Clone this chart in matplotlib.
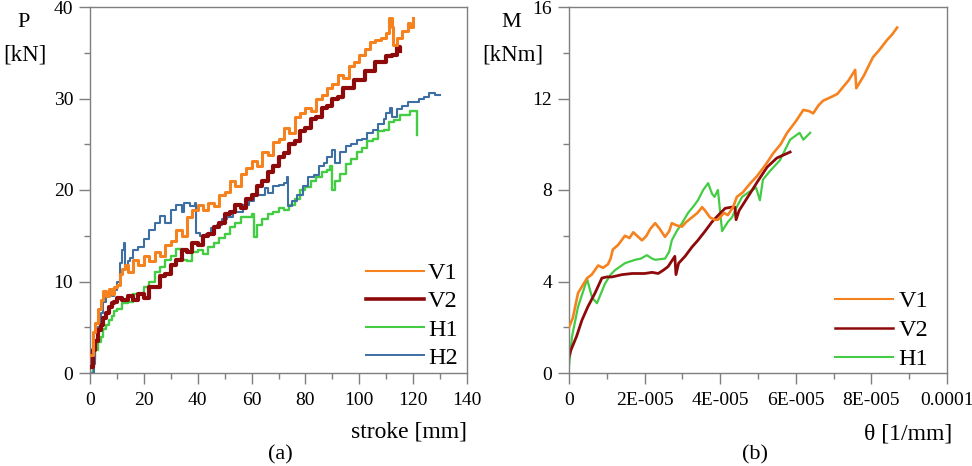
import numpy as np
import matplotlib
matplotlib.use("Agg")
import matplotlib.pyplot as plt
from matplotlib.ticker import MultipleLocator

# (a) load vs stroke
stroke_v1 = [0, 1, 2, 3, 4, 5, 6, 7, 8, 9, 10, 11, 12, 13, 14, 16, 18, 20, 22, 24, 26, 28, 30, 32, 34, 36,
             38, 40, 42, 44, 46, 48, 50, 52, 54, 56, 58, 60, 62, 64, 66, 68, 70, 72, 74, 76, 78, 80, 82, 84,
             86, 88, 90, 92, 94, 96, 98, 100, 102, 104, 106, 108, 110, 111, 112, 112.5, 114, 116, 118, 119, 120]
load_v1 = [2.0, 4.5, 5.5, 7.0, 8.0, 9.0, 8.4, 9.2, 8.6, 9.4, 9.6, 10.8, 11.4, 11.8, 11.0, 12.4, 11.8, 12.8,
           12.2, 13.2, 12.8, 14.0, 14.4, 15.6, 15.0, 17.0, 17.8, 18.4, 17.8, 18.6, 18.2, 19.4, 19.8, 21.0,
           20.4, 21.8, 22.4, 23.2, 22.6, 24.2, 23.8, 25.2, 25.6, 26.8, 26.2, 28.0, 28.4, 29.0, 28.6, 30.0,
           30.4, 31.2, 31.6, 32.6, 32.2, 33.6, 34.0, 34.8, 35.4, 36.2, 36.4, 36.6, 37.2, 38.8, 37.8, 35.8,
           36.6, 37.4, 38.2, 37.8, 38.8]

stroke_v2 = [0, 1, 2, 3, 4, 5, 6, 7, 8, 9, 10, 12, 14, 16, 18, 20, 22, 24, 26, 28, 30, 32, 34, 36, 38, 40,
             42, 44, 46, 48, 50, 52, 54, 56, 58, 60, 62, 64, 66, 68, 70, 72, 74, 76, 78, 80, 82, 84, 86, 88,
             90, 92, 94, 96, 98, 100, 102, 104, 106, 108, 110, 112, 114, 115]
load_v2 = [0.7, 2.5, 3.5, 4.7, 5.2, 6.0, 6.6, 7.2, 7.6, 7.8, 8.2, 8.0, 8.4, 8.0, 8.6, 8.2, 9.4, 9.4, 10.6,
           10.8, 11.8, 12.4, 13.4, 13.2, 14.2, 14.0, 15.0, 15.2, 16.0, 16.4, 17.4, 17.6, 18.4, 18.0, 19.0,
           19.4, 20.4, 21.0, 22.0, 22.6, 23.6, 24.0, 25.0, 25.4, 26.4, 26.8, 27.8, 28.0, 29.0, 29.2, 30.0,
           30.2, 31.2, 31.2, 32.0, 32.0, 33.0, 33.0, 34.0, 34.0, 34.6, 34.8, 35.6, 35.2]

stroke_h1 = [0, 1, 2, 3, 4, 5, 6, 7, 8, 9, 10, 12, 14, 16, 18, 20, 22, 24, 26, 28, 30, 32, 34, 36, 38, 40,
             42, 44, 46, 48, 50, 52, 54, 56, 58, 60, 61, 62, 64, 66, 68, 70, 72, 74, 76, 78, 80, 82, 84, 86,
             88, 89, 90, 91, 93, 95, 97, 99, 101, 103, 105, 107, 109, 111, 113, 115, 117, 119, 121, 121.5]
load_h1 = [0.0, 1.5, 2.5, 3.4, 3.9, 4.8, 5.2, 5.8, 6.2, 6.8, 7.0, 7.6, 7.8, 8.6, 8.6, 9.4, 10.0, 11.0, 11.6,
           12.4, 12.8, 13.6, 12.4, 12.2, 13.2, 13.4, 13.0, 13.8, 14.2, 14.8, 15.2, 16.0, 16.4, 17.0, 17.0,
           17.4, 14.9, 16.2, 16.8, 17.4, 17.6, 18.0, 17.8, 18.4, 19.0, 20.0, 20.3, 21.0, 21.4, 22.0, 22.2,
           22.6, 20.0, 21.0, 21.8, 22.8, 23.4, 24.2, 24.6, 25.4, 25.6, 26.4, 26.6, 27.4, 27.6, 28.2, 28.2,
           28.6, 28.6, 26.0]

stroke_h2 = [0.5, 1.5, 2, 3, 4, 5, 6, 7, 8, 9, 10, 11, 12, 12.5, 13, 14, 15, 16, 18, 20, 22, 24, 26, 28, 30,
             32, 34, 35, 37, 39, 39.5, 41, 43, 45, 47, 49, 51, 53, 55, 57, 59, 61, 63, 65, 66, 68, 70, 72,
             73, 73.5, 75, 77, 79, 81, 83, 85, 87, 88, 90, 91, 93, 95, 97, 99, 101, 103, 105, 107, 109, 110,
             111.4, 112, 114, 116, 118, 120, 122, 124, 126, 128, 130]
load_h2 = [0.0, 1.0, 3.5, 5.0, 6.6, 7.8, 8.6, 8.8, 8.4, 9.1, 10.0, 12.0, 13.4, 14.2, 11.6, 12.2, 12.6, 13.4,
           13.8, 14.6, 15.6, 16.4, 17.2, 16.4, 17.8, 18.4, 17.6, 18.6, 18.2, 18.6, 15.3, 15.0, 15.2, 15.8,
           16.2, 16.8, 17.0, 17.6, 17.6, 18.4, 18.8, 19.4, 19.4, 20.2, 19.7, 20.4, 20.6, 20.8, 21.4, 18.2,
           18.8, 19.4, 20.4, 21.4, 21.6, 22.6, 23.0, 23.6, 24.4, 23.0, 24.2, 24.8, 25.0, 25.5, 25.6, 26.2,
           26.6, 27.2, 27.8, 28.4, 29.0, 28.0, 28.8, 29.2, 29.6, 29.6, 30.0, 30.2, 30.6, 30.4, 30.4]

# (b) moment vs curvature, theta in units of 1e-5 1/mm
theta_v1 = [0, 0.1, 0.24, 0.35, 0.48, 0.6, 0.77, 0.9, 1.03, 1.1, 1.16, 1.3, 1.48, 1.6, 1.7, 1.8, 1.93, 2.05,
            2.15, 2.28, 2.4, 2.54, 2.65, 2.72, 2.85, 2.99, 3.1, 3.25, 3.4, 3.52, 3.6, 3.73, 3.85, 3.94, 4.1,
            4.2, 4.34, 4.44, 4.6, 4.8, 4.97, 5.2, 5.4, 5.6, 5.77, 6.0, 6.2, 6.35, 6.46, 6.6, 6.72, 6.98, 7.1,
            7.25, 7.4, 7.57, 7.6, 7.8, 8.04, 8.2, 8.41, 8.55, 8.68]
moment_v1 = [2.0, 2.4, 3.5, 3.8, 4.15, 4.3, 4.7, 4.6, 4.75, 5.0, 5.4, 5.6, 6.0, 5.9, 6.15, 6.0, 5.8, 6.0,
             6.3, 6.55, 6.3, 5.95, 6.2, 6.55, 6.45, 6.4, 6.6, 6.8, 7.0, 7.25, 7.1, 6.8, 6.7, 6.7, 7.0, 6.9,
             7.25, 7.7, 7.9, 8.3, 8.6, 9.1, 9.6, 10.0, 10.5, 11.0, 11.5, 11.45, 11.35, 11.7, 11.9, 12.1, 12.2,
             12.5, 12.8, 13.25, 12.45, 13.0, 13.8, 14.1, 14.55, 14.8, 15.1]

theta_v2 = [0, 0.05, 0.2, 0.34, 0.5, 0.69, 0.87, 1.0, 1.14, 1.4, 1.67, 2.0, 2.2, 2.36, 2.5, 2.62, 2.8, 2.83,
            2.9, 3.07, 3.25, 3.41, 3.6, 3.78, 3.95, 4.13, 4.3, 4.39, 4.42, 4.5, 4.79, 5.0, 5.24, 5.5, 5.85]
moment_v2 = [0.7, 1.0, 1.6, 2.3, 2.9, 3.5, 4.15, 4.2, 4.2, 4.3, 4.35, 4.35, 4.4, 4.35, 4.5, 4.65, 5.1, 4.3,
             4.8, 5.1, 5.5, 5.8, 6.2, 6.6, 6.9, 7.2, 7.25, 7.25, 6.7, 7.1, 7.85, 8.4, 9.0, 9.4, 9.66]

theta_h1 = [0, 0.08, 0.24, 0.48, 0.61, 0.74, 0.95, 1.1, 1.22, 1.48, 1.75, 1.9, 2.06, 2.2, 2.28, 2.54, 2.65,
            2.72, 2.85, 2.99, 3.15, 3.3, 3.41, 3.55, 3.68, 3.78, 3.85, 3.94, 4.05, 4.2, 4.31, 4.45, 4.58,
            4.75, 4.95, 5.05, 5.13, 5.3, 5.58, 5.85, 6.1, 6.2, 6.38]
moment_h1 = [0.3, 1.6, 2.9, 4.1, 3.3, 3.05, 3.9, 4.3, 4.5, 4.8, 4.95, 5.0, 5.15, 5.0, 4.95, 5.0, 5.3, 5.8,
             6.2, 6.55, 7.0, 7.3, 7.55, 8.0, 8.3, 7.85, 7.7, 8.0, 6.2, 6.6, 6.8, 7.3, 7.7, 7.9, 8.1, 7.55,
             8.45, 8.8, 9.3, 10.2, 10.5, 10.2, 10.5]

theta_ticks = [0, 2e-5, 4e-5, 6e-5, 8e-5, 1e-4]
theta_tick_labels = ["0", "2E-005", "4E-005", "6E-005", "8E-005", "0.0001"]

c_v1 = "#f5821f"
c_v2 = "#8e0a0a"
c_h1 = "#44cc44"
c_h2 = "#3d6fa3"
spine_gray = "#7f7f7f"

plt.rcParams["font.family"] = ["Liberation Serif", "DejaVu Serif"]

fig = plt.figure(figsize=(9.72, 4.66), dpi=100)
ax1 = fig.add_axes([90 / 972, 93 / 466, 377 / 972, 366 / 466])
ax2 = fig.add_axes([569 / 972, 93 / 466, 378 / 972, 366 / 466])

ax1.plot(stroke_v1, load_v1, color=c_v1, lw=2.2, drawstyle="steps-post", label="V1", zorder=4)
ax1.plot(stroke_v2, load_v2, color=c_v2, lw=3.0, drawstyle="steps-post", label="V2", zorder=3)
ax1.plot(stroke_h1, load_h1, color=c_h1, lw=1.7, drawstyle="steps-post", label="H1", zorder=1)
ax1.plot(stroke_h2, load_h2, color=c_h2, lw=1.5, drawstyle="steps-post", label="H2", zorder=2)

th = 1e-5
ax2.plot(np.array(theta_v1) * th, moment_v1, color=c_v1, lw=1.9, label="V1", zorder=3)
ax2.plot(np.array(theta_v2) * th, moment_v2, color=c_v2, lw=2.0, label="V2", zorder=2)
ax2.plot(np.array(theta_h1) * th, moment_h1, color=c_h1, lw=1.6, label="H1", zorder=1)

ax1.set_xlim(0, 140)
ax1.set_ylim(0, 40)
ax1.xaxis.set_major_locator(MultipleLocator(20))
ax1.xaxis.set_minor_locator(MultipleLocator(10))
ax1.yaxis.set_major_locator(MultipleLocator(10))
ax1.yaxis.set_minor_locator(MultipleLocator(5))

ax2.set_xlim(0, 1e-4)
ax2.set_ylim(0, 16)
ax2.set_xticks(theta_ticks)
ax2.set_xticklabels(theta_tick_labels)
ax2.xaxis.set_minor_locator(MultipleLocator(1e-5))
ax2.yaxis.set_major_locator(MultipleLocator(4))
ax2.yaxis.set_minor_locator(MultipleLocator(2))

for ax in (ax1, ax2):
    for s in ax.spines.values():
        s.set_color(spine_gray)
        s.set_linewidth(1.0)
    ax.tick_params(which="both", direction="out", color=spine_gray, labelsize=14,
                   top=False, right=False)
    ax.tick_params(which="major", length=8, width=1.0)
    ax.tick_params(which="minor", length=4.5, width=1.0)
    ax.tick_params(axis="x", which="major", pad=6)
    ax.tick_params(axis="y", which="major", pad=4)

leg1 = ax1.legend(loc="lower right", bbox_to_anchor=(0.975, 0.012), frameon=False, fontsize=17.5,
                  handlelength=2.4, handletextpad=0.15, labelspacing=0.25, borderaxespad=0, borderpad=0)
leg2 = ax2.legend(loc="lower right", bbox_to_anchor=(0.95, 0.008), frameon=False, fontsize=17.5,
                  handlelength=2.4, handletextpad=0.2, labelspacing=0.28, borderaxespad=0, borderpad=0)

# legend lines are thinner than the plotted curves
for line, w in zip(leg1.get_lines(), [1.5, 2.6, 1.5, 1.4]):
    line.set_linewidth(w)
for line, w in zip(leg2.get_lines(), [1.5, 1.8, 1.5]):
    line.set_linewidth(w)

ax1.text(-0.175, 0.959, "P", transform=ax1.transAxes, ha="center", va="center", fontsize=16)
ax1.text(-0.173, 0.869, "[kN]", transform=ax1.transAxes, ha="center", va="center", fontsize=16.5)
ax1.text(1.0, -0.162, "stroke [mm]", transform=ax1.transAxes, ha="right", va="center", fontsize=17)
ax1.text(0.504, -0.224, "(a)", transform=ax1.transAxes, ha="center", va="center", fontsize=16)

ax2.text(-0.153, 0.959, "M", transform=ax2.transAxes, ha="center", va="center", fontsize=16)
ax2.text(-0.148, 0.869, "[kNm]", transform=ax2.transAxes, ha="center", va="center", fontsize=16.5)
ax2.text(1.015, -0.167, "θ [1/mm]", transform=ax2.transAxes, ha="right", va="center", fontsize=17)
ax2.text(0.492, -0.224, "(b)", transform=ax2.transAxes, ha="center", va="center", fontsize=16)

fig.savefig("out.png", dpi=100)
